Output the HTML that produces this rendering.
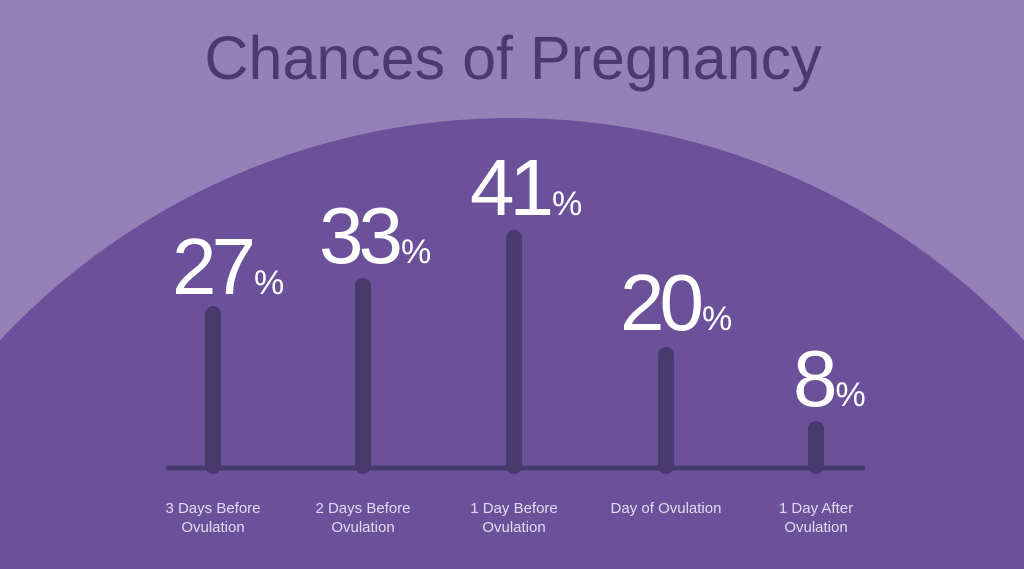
<!DOCTYPE html>
<html><head><style>
html,body{margin:0;padding:0;width:1024px;height:569px;overflow:hidden;background:#9580b8;font-family:"Liberation Sans",sans-serif;}
svg{position:absolute;left:0;top:0;display:block}
</style></head><body>
<svg width="1024" height="569" viewBox="0 0 1024 569">
<rect width="1024" height="569" fill="#9580b8"/>
<circle cx="512" cy="819" r="701" fill="#6b519a"/>
<text x="513" y="79" text-anchor="middle" font-size="61" fill="#4a3a70" font-family="Liberation Sans">Chances of Pregnancy</text>
<line x1="168" y1="468" x2="863" y2="468" stroke="#493a6e" stroke-width="5" stroke-linecap="round"/>
<g stroke="#493a6e" stroke-width="16" stroke-linecap="round">
<line x1="213" y1="314" x2="213" y2="466"/>
<line x1="363" y1="286" x2="363" y2="466"/>
<line x1="514" y1="238" x2="514" y2="466"/>
<line x1="666" y1="355" x2="666" y2="466"/>
<line x1="816" y1="429" x2="816" y2="466"/>
</g>
<g fill="#fff" font-family="Liberation Sans">
<text x="172" y="294" font-size="80" letter-spacing="-5">27<tspan font-size="34" letter-spacing="0" dx="3">%</tspan></text>
<text x="319" y="263" font-size="80" letter-spacing="-5">33<tspan font-size="34" letter-spacing="0" dx="3">%</tspan></text>
<text x="470" y="215" font-size="80" letter-spacing="-5">41<tspan font-size="34" letter-spacing="0" dx="3">%</tspan></text>
<text x="620" y="330" font-size="80" letter-spacing="-5">20<tspan font-size="34" letter-spacing="0" dx="3">%</tspan></text>
<text x="793" y="406" font-size="80" letter-spacing="-5">8<tspan font-size="34" letter-spacing="0" dx="3">%</tspan></text>
</g>
<g fill="#e2daf0" font-size="15" text-anchor="middle" font-family="Liberation Sans">
<text x="213" y="513">3 Days Before</text><text x="213" y="532">Ovulation</text>
<text x="363" y="513">2 Days Before</text><text x="363" y="532">Ovulation</text>
<text x="514" y="513">1 Day Before</text><text x="514" y="532">Ovulation</text>
<text x="666" y="513">Day of Ovulation</text>
<text x="816" y="513">1 Day After</text><text x="816" y="532">Ovulation</text>
</g>
</svg>
</body></html>
